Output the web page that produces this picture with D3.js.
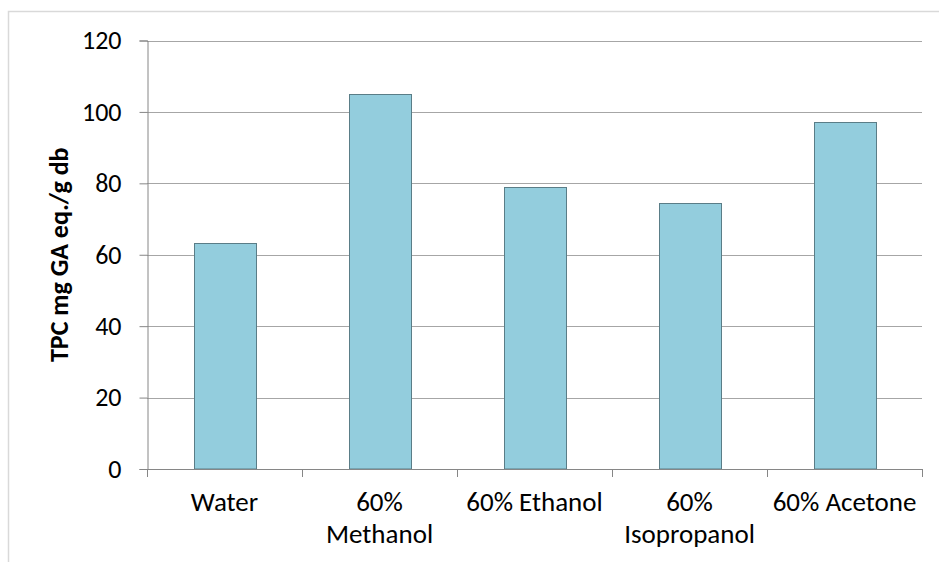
<!DOCTYPE html>
<html><head><meta charset="utf-8">
<script src="https://cdn.jsdelivr.net/npm/d3@7"></script>
<style>body{margin:0;background:#fff}svg{display:block}</style>
</head><body>
<script>
const categories = [["Water"], ["60%", "Methanol"], ["60% Ethanol"], ["60%", "Isopropanol"], ["60% Acetone"]];
const values = [63.2, 104.9, 79.1, 74.5, 97.1];
const yTicks = [0, 20, 40, 60, 80, 100, 120];
const yTitle = "TPC mg GA eq./g db";

const W = 939, H = 562;
const m = {left: 147, right: 17, top: 40.5, bottom: 93};
const font = "Carlito, Calibri, Lato, sans-serif";
const svg = d3.select("body").append("svg").attr("width", W).attr("height", H);

svg.append("rect").attr("x", 8.5).attr("y", 11.5).attr("width", W).attr("height", H)
  .attr("fill", "none").attr("stroke", "#d9d9d9").attr("stroke-width", 1.5);

const x = d3.scaleBand().domain(d3.range(categories.length))
  .range([m.left, W - m.right]).paddingInner(0.6).paddingOuter(0.3);
const y = d3.scaleLinear().domain([0, 120]).range([469, m.top]);

// gridlines
svg.append("g").selectAll("line").data(yTicks.filter(d => d > 0)).join("line")
  .attr("x1", m.left).attr("x2", W - m.right)
  .attr("y1", d => Math.round(y(d)) + 0.5).attr("y2", d => Math.round(y(d)) + 0.5)
  .attr("stroke", "#a6a6a6").attr("stroke-width", 1);

// y axis
const yAxis = svg.append("g").attr("transform", `translate(${m.left + 0.5},0)`)
  .call(d3.axisLeft(y).tickValues(yTicks).tickSize(8).tickPadding(18));
yAxis.select(".domain").attr("stroke", "#868686");
yAxis.selectAll(".tick line").attr("stroke", "#868686");
yAxis.selectAll(".tick text").attr("font-family", font).attr("font-size", 26).attr("fill", "#000");

// bars
svg.append("g").selectAll("rect").data(values).join("rect")
  .attr("x", (d, i) => Math.round(x(i)) + 0.5)
  .attr("y", d => Math.round(y(d)) + 0.5)
  .attr("width", x.bandwidth())
  .attr("height", d => y(0) - Math.round(y(d)) - 0.5)
  .attr("fill", "#93cddd").attr("stroke", "#5a7d87").attr("stroke-width", 1);

// x axis line and ticks
const step = x.step();
const xb = svg.append("g");
xb.append("line").attr("x1", m.left).attr("x2", W - m.right).attr("y1", 469.5).attr("y2", 469.5)
  .attr("stroke", "#868686");
xb.selectAll(".xt").data(d3.range(categories.length + 1)).join("line").attr("class", "xt")
  .attr("x1", i => Math.round(m.left + i * step) + 0.5).attr("x2", i => Math.round(m.left + i * step) + 0.5)
  .attr("y1", 469).attr("y2", 477).attr("stroke", "#868686");

// x labels
const lbl = svg.append("g").selectAll("text").data(categories).join("text")
  .attr("x", (d, i) => x(i) + x.bandwidth() / 2).attr("y", 511)
  .attr("text-anchor", "middle").attr("font-family", font).attr("font-size", 27).attr("fill", "#000");
lbl.selectAll("tspan").data(d => d).join("tspan")
  .attr("x", function(){ return this.parentNode.getAttribute("x"); })
  .attr("dy", (d, i) => i === 0 ? 0 : 32).text(d => d);

// y title
svg.append("text").attr("transform", `translate(68,${(y(0) + y(120)) / 2}) rotate(-90)`)
  .attr("text-anchor", "middle").attr("font-family", font).attr("font-size", 26)
  .attr("font-weight", "bold").attr("fill", "#000").text(yTitle);
</script>
</body></html>
